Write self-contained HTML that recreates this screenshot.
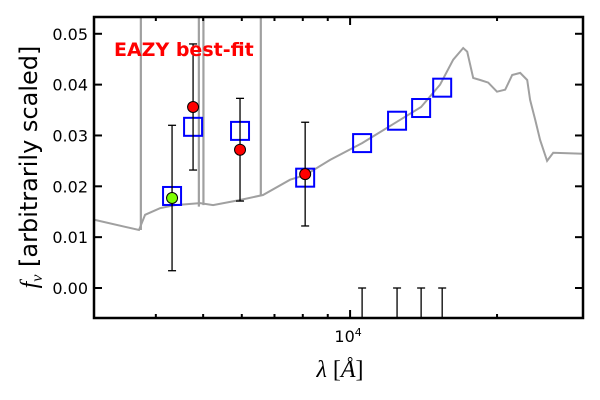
<!DOCTYPE html>
<html><head><meta charset="utf-8"><style>
html,body{margin:0;padding:0;background:#fff;}
svg{display:block;font-family:"DejaVu Sans","Liberation Sans",sans-serif;}
</style></head><body>
<svg id="chart" width="600" height="400" viewBox="0 0 600 400">
  <g id="plot"></g>
  <rect x="94" y="17" width="489" height="301" fill="none" stroke="#000" stroke-width="2.5"/>
  <g id="ticks"></g>
  <text x="114" y="56" fill="#ff0000" font-weight="bold" font-size="19">EAZY best-fit</text>
  <text x="340" y="377" text-anchor="middle" font-family="'Liberation Serif','DejaVu Serif',serif" font-size="24"><tspan font-style="italic">λ</tspan> [<tspan font-style="italic">Å</tspan>]</text>
  <text transform="translate(37,167) rotate(-90)" text-anchor="middle" font-size="24"><tspan font-family="'Liberation Serif',serif" font-style="italic">f</tspan><tspan font-family="'Liberation Serif',serif" font-style="italic" font-size="16" dy="5">ν</tspan><tspan dy="-5"> [arbitrarily scaled]</tspan></text>
</svg>
<script>
const specWave = [3000,3694,3802,4080,4379,4928,5240,5950,6632,7535,8090,9100,10583,12480,13980,15290,16260,17050,17370,17870,18470,19180,20000,20780,21480,22310,23060,23380,23940,24500,25330,26060,30000];
const specFlux = [0.0134,0.0114,0.0144,0.0157,0.0163,0.0167,0.0163,0.0173,0.0183,0.0213,0.0222,0.0252,0.0285,0.0327,0.0356,0.0400,0.0449,0.0472,0.0465,0.0413,0.0409,0.0404,0.0386,0.0390,0.0419,0.0423,0.0409,0.0370,0.0331,0.0291,0.0250,0.0266,0.0264];
const lineWave = [3727,4900,5007,6563];
const lineBase = [0.0114,0.0160,0.0163,0.0183];
const modelWave = [4318,4768,5950,8090,10583,12480,13980,15440];
const modelFlux = [0.0181,0.0317,0.0309,0.0217,0.0285,0.0329,0.0354,0.0394];
const obsWave = [4318,4768,5950,8090];
const obsFlux = [0.0177,0.0356,0.0272,0.0224];
const obsErr = [0.0143,0.0124,0.0101,0.0102];
const obsColor = ['#7fff00','#ff0000','#ff0000','#ff0000'];
const limWave = [10583,12480,13980,15440];
const limFlux = [0,0,0,0];
const limErr = [0.0100,0.0100,0.0100,0.0100];
const yTicks = [0.00,0.01,0.02,0.03,0.04,0.05];
const yTickLabels = ['0.00','0.01','0.02','0.03','0.04','0.05'];
const xMinor = [4000,5000,6000,7000,8000,9000,20000,30000];

const L=94,R=583,T=17,B=318;
const xMin=2988, xMax=30000, yMin=-0.0059, yMax=0.0533;
function X(w){return L+(R-L)*Math.log10(w/xMin)/Math.log10(xMax/xMin);}
function Y(v){return B-(B-T)*(v-yMin)/(yMax-yMin);}
const NS='http://www.w3.org/2000/svg';
const plot=document.getElementById('plot'), ticks=document.getElementById('ticks');
function mk(tag,attrs,parent){const e=document.createElementNS(NS,tag);for(const k in attrs)e.setAttribute(k,attrs[k]);parent.appendChild(e);return e;}

const defs=mk('defs',{},plot);
const cp=mk('clipPath',{id:'clip'},defs);
mk('rect',{x:L,y:T,width:R-L,height:B-T},cp);
const g=mk('g',{'clip-path':'url(#clip)'},plot);

lineWave.forEach((w,i)=>{
  const l=mk('line',{x1:X(w),x2:X(w),y1:Y(lineBase[i]),y2:T,stroke:'#a0a0a0','stroke-width':2.2},g);
  
  
});
const pts=specWave.map((w,i)=>X(w).toFixed(1)+','+Y(specFlux[i]).toFixed(1)).join(' ');
const sp=mk('polyline',{points:pts,fill:'none',stroke:'#a0a0a0','stroke-width':2},g);



modelWave.forEach((w,i)=>{
  const r=mk('rect',{x:X(w)-9,y:Y(modelFlux[i])-9,width:18,height:18,fill:'none',stroke:'#0000ff','stroke-width':2},g);
  
  
});
function errbar(x,y1,y2,name,caps){
  const gg=mk('g',{stroke:'#000','stroke-width':1.3},g);
  
  
  mk('line',{x1:x,x2:x,y1:y1,y2:y2},gg);
  caps.forEach(y=>mk('line',{x1:x-4,x2:x+4,y1:y,y2:y},gg));
}
limWave.forEach((w,i)=>{
  const x=X(w),yt=Y(limFlux[i]),yb=Y(limFlux[i]-limErr[i]);
  errbar(x,yt,yb,'upper-limit-errorbar',[yt]);
});
obsWave.forEach((w,i)=>{
  const x=X(w),yt=Y(obsFlux[i]+obsErr[i]),yb=Y(obsFlux[i]-obsErr[i]);
  errbar(x,yt,yb,'observed-errorbar',[yt,yb]);
  const c=mk('circle',{cx:x,cy:Y(obsFlux[i]),r:5.5,fill:obsColor[i],stroke:'#000','stroke-width':1},g);
  
  
});

yTicks.forEach((v,i)=>{
  const y=Y(v);
  mk('line',{x1:L,x2:L+8,y1:y,y2:y,stroke:'#000','stroke-width':2},ticks);
  mk('line',{x1:R-8,x2:R,y1:y,y2:y,stroke:'#000','stroke-width':2},ticks);
  const t=mk('text',{x:88,y:y+6,'text-anchor':'end','font-size':16},ticks);
  t.textContent=yTickLabels[i];
  
  
});
xMinor.forEach(w=>{
  const x=X(w);
  mk('line',{x1:x,x2:x,y1:B,y2:B-4,stroke:'#000','stroke-width':2},ticks);
  mk('line',{x1:x,x2:x,y1:T,y2:T+4,stroke:'#000','stroke-width':2},ticks);
});
const xm=X(10000);
mk('line',{x1:xm,x2:xm,y1:B,y2:B-8,stroke:'#000','stroke-width':2},ticks);
mk('line',{x1:xm,x2:xm,y1:T,y2:T+8,stroke:'#000','stroke-width':2},ticks);
const xt=mk('text',{x:xm-2,y:342,'text-anchor':'middle','font-size':16},ticks);
xt.innerHTML='10<tspan font-size="11" dy="-6">4</tspan>';


</script>
</body></html>
